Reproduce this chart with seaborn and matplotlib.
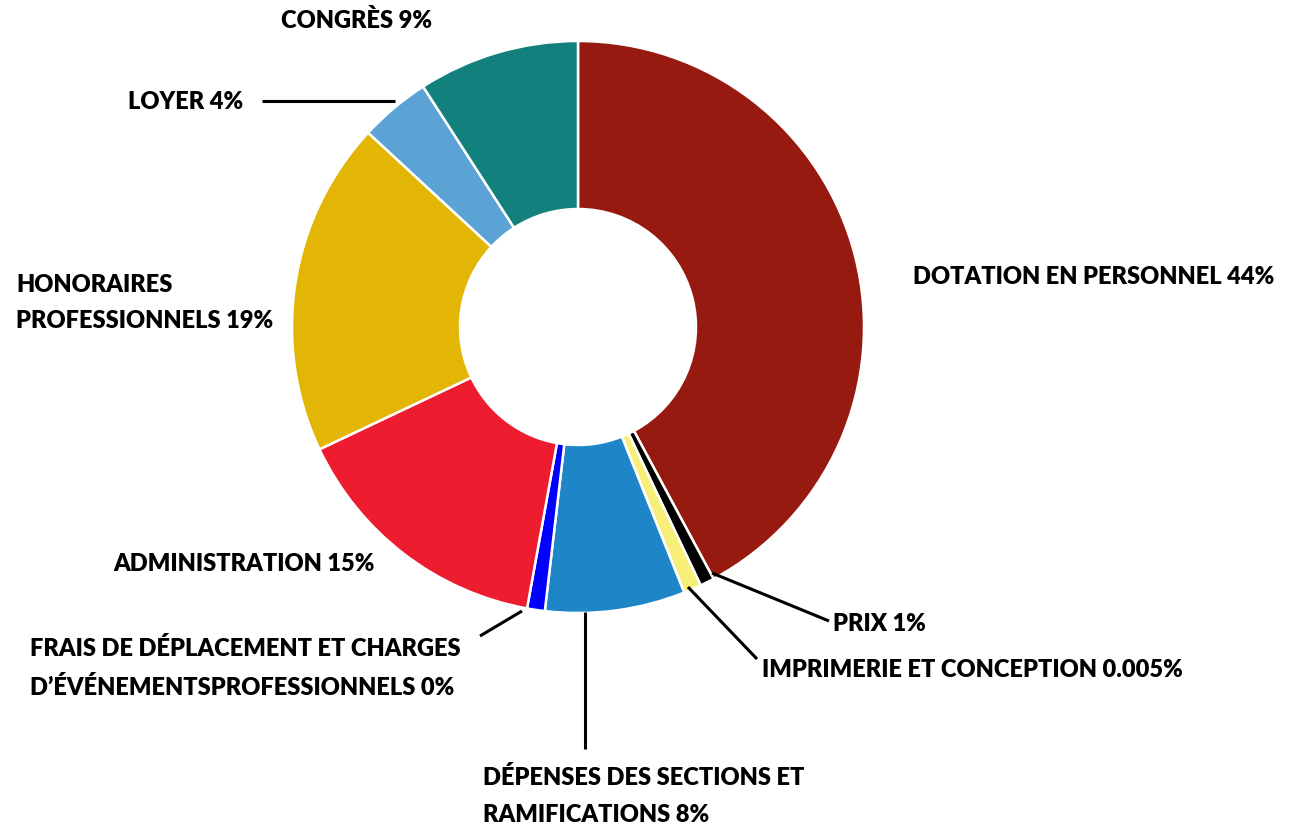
import matplotlib
matplotlib.use("Agg")
import matplotlib.pyplot as plt
import seaborn as sns

# slices, clockwise from 12 o'clock
categories = ["DOTATION EN PERSONNEL", "PRIX", "IMPRIMERIE ET CONCEPTION",
              "DÉPENSES DES SECTIONS ET RAMIFICATIONS",
              "FRAIS DE DÉPLACEMENT ET CHARGES D’ÉVÉNEMENTSPROFESSIONNELS",
              "ADMINISTRATION", "HONORAIRES PROFESSIONNELS", "LOYER", "CONGRÈS"]
values = [42.1, 0.8, 1.0, 7.9, 1.0, 15.1, 18.9, 4.0, 9.1]
labels = ["DOTATION EN PERSONNEL 44%", "PRIX 1%", "IMPRIMERIE ET CONCEPTION 0.005%",
          "DÉPENSES DES SECTIONS ET\nRAMIFICATIONS 8%",
          "FRAIS DE DÉPLACEMENT ET CHARGES\nD’ÉVÉNEMENTSPROFESSIONNELS 0%",
          "ADMINISTRATION 15%", "HONORAIRES\nPROFESSIONNELS 19%", "LOYER 4%", "CONGRÈS 9%"]
colors = ["#961a10", "#000000", "#f8ef78", "#1e86c6", "#0000ff",
          "#ed1c2e", "#e3b505", "#5aa3d4", "#12807c"]

sns.set_theme(style="white")
plt.rcParams["font.family"] = ["Lato", "DejaVu Sans"]

W, H = 1294, 828
fig = plt.figure(figsize=(W / 100, H / 100), dpi=100)
ax = fig.add_axes([0, 0, 1, 1])

cx, cy, r = 578, H - 328, 286
ax.pie(values, colors=colors, startangle=90, counterclock=False,
       center=(cx, cy), radius=r, frame=True,
       wedgeprops=dict(width=168, edgecolor="white", linewidth=1.8))
ax.set_xlim(0, W)
ax.set_ylim(0, H)
ax.set_aspect("equal")
ax.axis("off")

# label placement (left x, centre y in pixels from top)
pos = [(913, 277), (833, 624), (762, 670), (483, 796), (30, 668),
       (113, 564), (16, 303), (128, 102), (281, 20)]
for lab, (x, y) in zip(labels, pos):
    ax.text(x, H - y, lab, ha="left", va="center", fontsize=17,
            fontweight="heavy", color="black", linespacing=1.8)

# leader lines
leaders = [((262, 102), (395, 102)),
           ((712, 574), (829, 622)),
           ((688, 588), (757, 660)),
           ((585, 613), (585, 750)),
           ((522, 612), (480, 637))]
for (x0, y0), (x1, y1) in leaders:
    ax.plot([x0, x1], [H - y0, H - y1], color="black", lw=2.2,
            solid_capstyle="butt")

fig.savefig("out.png", dpi=100, facecolor="white")
